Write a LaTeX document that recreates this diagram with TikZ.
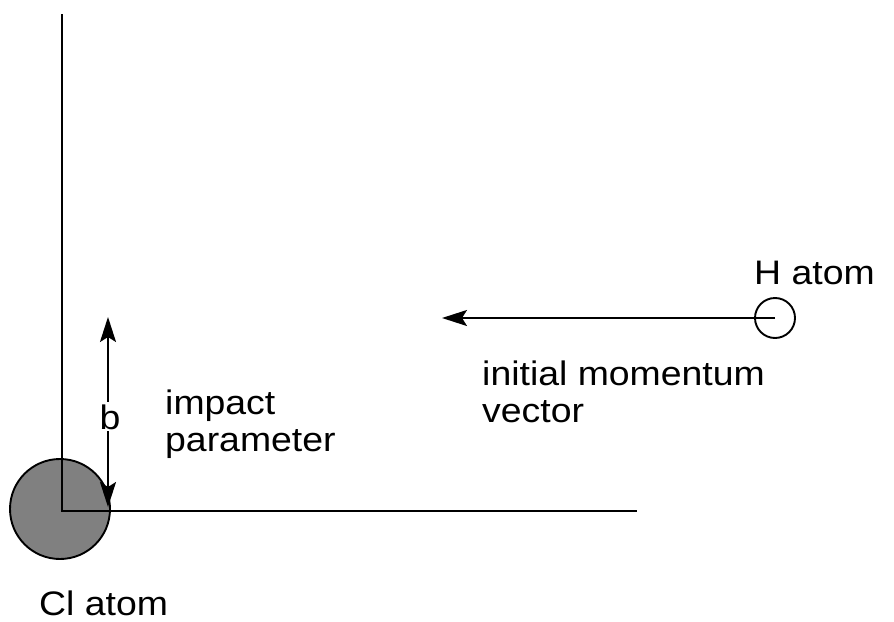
\documentclass[tikz,border=0pt]{standalone}
\usepackage{fontspec}
\newfontfamily\labfont[FakeStretch=1.1]{Liberation Sans}
\usetikzlibrary{arrows.meta}
\begin{document}
\begin{tikzpicture}[x=1pt,y=-1pt,
  ln/.style={line width=1.9pt, black},
  tip/.style={-{Stealth[length=25pt,width=16pt,inset=5pt]}},
  lab/.style={inner sep=0pt, anchor=base west, align=left, font=\labfont\fontsize{34}{37}\selectfont}]
\useasboundingbox (0,0) rectangle (894,621);
% Cl atom
\node[ln, draw, circle, fill={rgb,255:red,128;green,128;blue,128}, minimum size=100pt, inner sep=0pt] (cl) at (60,509) {};
% axes
\coordinate (o) at (62,511);
\coordinate (ytop) at (62,14);
\coordinate (xend) at (637,511);
\draw[ln] (ytop) -- (o) -- (xend);
% impact parameter arrow
\coordinate (bbot) at (108,507);
\coordinate (btop) at (108,317);
\draw[ln, tip] (bbot |- 0,420) -- (btop);
\draw[ln, tip] (btop |- 0,420) -- (bbot);
\node[lab, anchor=base, fill=white, inner sep=2pt] (b) at (110,429) {b};
% H atom
\node[ln, draw, circle, minimum size=40pt, inner sep=0pt] (h) at (775,318) {};
\coordinate (htip) at (442,318);
\draw[ln, tip] (h.center) -- (htip);
% labels
\node[lab] (hl) at (754,284) {H atom};
\node[lab] (mom) at (482,422) {initial momentum\\vector};
\node[lab] (imp) at (165,451) {impact\\parameter};
\node[lab] (cll) at (39,615) {Cl atom};
\end{tikzpicture}
\end{document}
